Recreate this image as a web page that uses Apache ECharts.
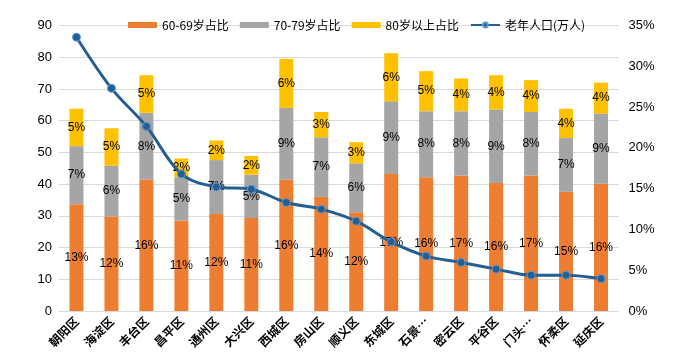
<!DOCTYPE html>
<html><head><meta charset="utf-8">
<script src="https://cdn.jsdelivr.net/npm/echarts@6/dist/echarts.min.js"></script>
<style>html,body{margin:0;padding:0;background:#fff}#c{width:684px;height:362px}</style>
</head><body><div id="c"></div>
<script>
const categories = ['朝阳区','海淀区','丰台区','昌平区','通州区','大兴区','西城区','房山区','顺义区','东城区','石景山区','密云区','平谷区','门头沟区','怀柔区','延庆区'];
const pct6069 = [13.1,11.6,16.1,11.1,11.9,11.4,16.1,14.0,12.1,16.8,16.4,16.6,15.7,16.6,14.6,15.6];
const pct7079 = [7.1,6.2,8.2,5.3,6.6,5.3,8.8,7.3,6.0,8.9,8.1,7.9,9.0,7.8,6.6,8.6];
const pct80 = [4.6,4.6,4.6,2.3,2.4,2.3,6.0,3.1,2.6,5.9,4.9,4.0,4.2,3.9,3.6,3.8];
const elderly = [86.3,70.2,58.2,43.2,39.1,38.4,34.2,32.1,28.3,21.8,17.3,15.3,13.2,11.3,11.3,10.2];
const leftTicks = {min:0,max:90,interval:10};
const rightTicks = {min:0,max:35,interval:5};

const chart = echarts.init(document.getElementById('c'));
const lbl = {show:true,position:'inside',color:'#000',fontSize:12,fontFamily:'Liberation Sans Narrow, Liberation Sans, sans-serif',
  formatter:p=>Math.round(p.value)+'%'};
const barBase = {type:'bar',stack:'s',yAxisIndex:1,barWidth:'40%',label:lbl};
chart.setOption({
  animation:false,
  legend:{left:123,top:14,itemWidth:29,itemHeight:6,itemGap:11,
    textStyle:{fontSize:12,color:'#000',fontFamily:'Noto Sans CJK SC, sans-serif'},
    data:[{name:'60-69岁占比',icon:'rect'},{name:'70-79岁占比',icon:'rect'},{name:'80岁以上占比',icon:'rect'},{name:'老年人口(万人)'}]},
  grid:{left:59,right:65.5,top:25.5,bottom:51,containLabel:false},
  xAxis:{type:'category',data:categories,
    axisLine:{lineStyle:{color:'#d9d9d9'}},axisTick:{show:false},
    axisLabel:{rotate:45,interval:0,margin:8,color:'#000',fontSize:12,fontWeight:'bold',fontFamily:'Noto Sans CJK SC, sans-serif',
      formatter:v=>v.length>3?v.slice(0,2)+'…':v}},
  yAxis:[
    {type:'value',min:leftTicks.min,max:leftTicks.max,interval:leftTicks.interval,
     axisLine:{show:false},axisTick:{show:false},
     splitLine:{lineStyle:{color:'#d9d9d9'}},
     axisLabel:{color:'#000',fontSize:13,margin:7,fontFamily:'Liberation Sans, sans-serif'}},
    {type:'value',min:rightTicks.min,max:rightTicks.max,interval:rightTicks.interval,
     axisLine:{show:false},axisTick:{show:false},splitLine:{show:false},
     axisLabel:{color:'#000',fontSize:13,margin:10,fontFamily:'Liberation Sans Narrow, Liberation Sans, sans-serif',formatter:'{value}%'}}
  ],
  series:[
    Object.assign({},barBase,{name:'60-69岁占比',data:pct6069,itemStyle:{color:'#ED7D31'}}),
    Object.assign({},barBase,{name:'70-79岁占比',data:pct7079,itemStyle:{color:'#A5A5A5'}}),
    Object.assign({},barBase,{name:'80岁以上占比',data:pct80,itemStyle:{color:'#FFC000'}}),
    {name:'老年人口(万人)',type:'line',yAxisIndex:0,data:elderly,smooth:0.35,
     symbol:'circle',symbolSize:8,
     lineStyle:{color:'#255E91',width:3},
     itemStyle:{color:'#255E91',borderColor:'#5B9BD5',borderWidth:1},
     z:5}
  ]
});
</script></body></html>
